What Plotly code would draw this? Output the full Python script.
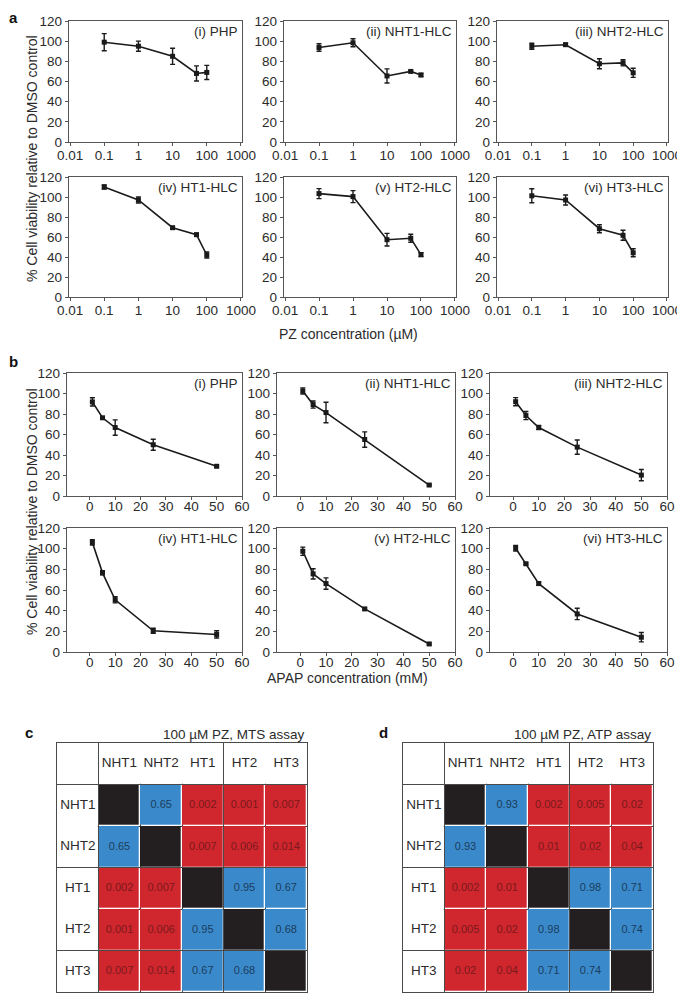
import plotly.graph_objects as go

# ---------------- data ----------------
pz_conc = [0.1, 1, 10, 50, 100]          # µM
apap_conc = [1, 5, 10, 25, 50]           # mM
panel_names = ["(i) PHP", "(ii) NHT1-HLC", "(iii) NHT2-HLC",
               "(iv) HT1-HLC", "(v) HT2-HLC", "(vi) HT3-HLC"]

pz_php = [99, 95, 85, 68, 69]
pz_php_err = [8.5, 5, 8, 7.5, 7]
pz_nht1 = [93.7, 98.4, 65.5, 70, 66.5]
pz_nht1_err = [3.7, 4, 7, 1, 1.5]
pz_nht2 = [95, 96.5, 77.6, 78.5, 68.6]
pz_nht2_err = [3, 1.5, 5, 3, 4.5]
pz_ht1 = [110, 97, 69.3, 62.3, 42]
pz_ht1_err = [2, 3, 1, 1.5, 3]
pz_ht2 = [103.4, 100.4, 57.3, 58.7, 42.4]
pz_ht2_err = [5, 6, 6.3, 4, 2]
pz_ht3 = [101.2, 97, 68.3, 61.7, 44.2]
pz_ht3_err = [7, 5, 4, 5, 4]

apap_php = [91.8, 76.3, 66.8, 50, 29]
apap_php_err = [4, 1, 7.5, 5.3, 1]
apap_nht1 = [102.5, 89.2, 81.4, 55.1, 10.7]
apap_nht1_err = [3, 3.5, 10, 7.5, 1]
apap_nht2 = [92, 78.5, 66.8, 47.7, 20.4]
apap_nht2_err = [4, 4, 2, 7, 5.5]
apap_ht1 = [106, 76.6, 50.5, 20.5, 17]
apap_ht1_err = [2.6, 2, 3, 2.5, 3.5]
apap_ht2 = [97.5, 75.6, 66.2, 41.7, 7.8]
apap_ht2_err = [4, 5, 5.5, 1, 1]
apap_ht3 = [100.4, 85.4, 66.2, 36.8, 14.3]
apap_ht3_err = [2.6, 1, 1.5, 5.5, 4.5]

pz_ticks = [0.01, 0.1, 1, 10, 100, 1000]
pz_ticktext = ["0.01", "0.1", "1", "10", "100", "1000"]
apap_ticks = [0, 10, 20, 30, 40, 50, 60]
y_ticks = [0, 20, 40, 60, 80, 100, 120]

cell_lines = ["NHT1", "NHT2", "HT1", "HT2", "HT3"]
mts_p = [["", "0.65", "0.002", "0.001", "0.007"],
         ["0.65", "", "0.007", "0.006", "0.014"],
         ["0.002", "0.007", "", "0.95", "0.67"],
         ["0.001", "0.006", "0.95", "", "0.68"],
         ["0.007", "0.014", "0.67", "0.68", ""]]
atp_p = [["", "0.93", "0.002", "0.005", "0.02"],
         ["0.93", "", "0.01", "0.02", "0.04"],
         ["0.002", "0.01", "", "0.98", "0.71"],
         ["0.005", "0.02", "0.98", "", "0.74"],
         ["0.02", "0.04", "0.71", "0.74", ""]]

# ---------------- style ----------------
FONT = "Liberation Sans, Arial, sans-serif"
TXT = "#2b2b2b"
AXC = "#555555"
RED = "#d0262e"
BLUE = "#3a8acb"
BLACK = "#231f20"
RED_TXT = "#7a1a1c"
BLUE_TXT = "#1c3c5c"

pz_series = [(pz_php, pz_php_err), (pz_nht1, pz_nht1_err), (pz_nht2, pz_nht2_err),
             (pz_ht1, pz_ht1_err), (pz_ht2, pz_ht2_err), (pz_ht3, pz_ht3_err)]
apap_series = [(apap_php, apap_php_err), (apap_nht1, apap_nht1_err), (apap_nht2, apap_nht2_err),
               (apap_ht1, apap_ht1_err), (apap_ht2, apap_ht2_err), (apap_ht3, apap_ht3_err)]

# the page body has an 8 px margin; the figure is sized to fit inside the window
OFF = 8.0
W = 685.0 - OFF
H = 994.0 - OFF

def px(xp):
    return (xp - OFF) / W

def py(yp):
    return 1 - (yp - OFF) / H

def ydom(top, bot):
    return [py(bot), py(top)]

def xdom(l, r):
    return [px(l), px(r)]

a_rows = [ydom(21, 142), ydom(177, 297)]
b_rows = [ydom(373, 496), ydom(528, 652)]
a_cols = [xdom(69, 242), xdom(284, 456), xdom(497, 668)]
b_cols = [xdom(67, 242), xdom(277, 455), xdom(490, 667)]

fig = go.Figure()
layout = dict(width=int(W), height=int(H), margin=dict(l=0, r=0, t=0, b=0, autoexpand=False),
              paper_bgcolor="white", plot_bgcolor="white", showlegend=False,
              font=dict(family=FONT, color=TXT, size=13))
annotations = []

def common_axis():
    return dict(showline=True, linecolor=AXC, linewidth=1.4, mirror=True,
                showgrid=False, zeroline=False, ticks="outside", ticklen=3,
                tickcolor=AXC, tickwidth=1, automargin=False,
                tickfont=dict(size=13.5, color=TXT, family=FONT))

idx = 0
for block, (series, xs, rows, cols) in enumerate([
        (pz_series, pz_conc, a_rows, a_cols),
        (apap_series, apap_conc, b_rows, b_cols)]):
    for k in range(6):
        idx += 1
        r, c = divmod(k, 3)
        yv, ev = series[k]
        xa = "x" if idx == 1 else f"x{idx}"
        ya = "y" if idx == 1 else f"y{idx}"
        fig.add_trace(go.Scatter(
            x=xs, y=yv, xaxis=xa, yaxis=ya, mode="lines+markers",
            line=dict(color="#1a1a1a", width=1.6),
            marker=dict(symbol="square", size=5, color="#1a1a1a"),
            error_y=dict(type="data", array=ev, visible=True, color="#1a1a1a",
                         thickness=1.4, width=2.5),
            cliponaxis=False))
        xax = common_axis()
        yax = common_axis()
        xax["domain"] = cols[c]
        yax["domain"] = rows[r]
        xax["anchor"] = ya
        yax["anchor"] = xa
        xax["ticklen"] = 3
        if block == 0:
            xax.update(type="log", range=[-2.03, 3.03], tickvals=pz_ticks,
                       ticktext=pz_ticktext, ticklabelstandoff=-2)
        else:
            xax.update(range=[-9, 60], tickvals=apap_ticks, ticklabelstandoff=-5)
        yax.update(range=[0, 120], tickvals=y_ticks)
        layout["xaxis" if idx == 1 else f"xaxis{idx}"] = xax
        layout["yaxis" if idx == 1 else f"yaxis{idx}"] = yax
        annotations.append(dict(
            text=panel_names[k], xref=f"{xa} domain", yref=f"{ya} domain",
            x=0.99, y=0.99, xanchor="right", yanchor="top", showarrow=False,
            font=dict(size=13.5, color=TXT, family=FONT)))

# ---------------- tables c and d ----------------
def table_z(pvals):
    z = [[0] * 6 for _ in range(6)]
    for i in range(5):
        for j in range(5):
            if i == j:
                z[i + 1][j + 1] = 1
            else:
                z[i + 1][j + 1] = 2 if float(pvals[i][j]) < 0.05 else 3
    return z

colorscale = [[0, "#ffffff"], [0.25, "#ffffff"], [0.25, BLACK], [0.5, BLACK],
              [0.5, RED], [0.75, RED], [0.75, BLUE], [1, BLUE]]

table_doms = [xdom(57, 307), xdom(403, 653)]
table_y = ydom(743, 992)
table_titles = ["100 µM PZ, MTS assay", "100 µM PZ, ATP assay"]
bounds = [-0.5, 0.5, 1.5, 2.5, 3.5, 4.5, 5.5]

for t, pvals in enumerate([mts_p, atp_p]):
    idx += 1
    xa, ya = f"x{idx}", f"y{idx}"
    z = table_z(pvals)
    fig.add_trace(go.Heatmap(
        z=z, x=list(range(6)), y=list(range(6)), xaxis=xa, yaxis=ya,
        colorscale=colorscale, zmin=-0.5, zmax=3.5, showscale=False,
        xgap=1.3, ygap=1.3, hoverinfo="skip"))
    tx, ty, tt, tc, ts = [], [], [], [], []
    for j, name in enumerate(cell_lines):
        tx.append(j + 1); ty.append(0); tt.append(name); tc.append(TXT); ts.append(13.5)
        tx.append(0); ty.append(j + 1); tt.append(name); tc.append(TXT); ts.append(13.5)
    for i in range(5):
        for j in range(5):
            if i == j:
                continue
            tx.append(j + 1); ty.append(i + 1); tt.append(pvals[i][j])
            tc.append(RED_TXT if z[i + 1][j + 1] == 2 else BLUE_TXT); ts.append(11)
    fig.add_trace(go.Scatter(
        x=tx, y=ty, xaxis=xa, yaxis=ya, mode="text", text=tt,
        textfont=dict(color=tc, size=ts, family=FONT), hoverinfo="skip"))
    grid = dict(showline=True, linecolor="#4a4a4a", linewidth=1.3, mirror=True,
                showgrid=True, gridcolor="#4a4a4a", gridwidth=1.3, automargin=False,
                tickvals=bounds, showticklabels=False, ticks="", zeroline=False)
    layout[f"xaxis{idx}"] = dict(grid, domain=table_doms[t], anchor=ya, range=[-0.5, 5.5])
    layout[f"yaxis{idx}"] = dict(grid, domain=table_y, anchor=xa, range=[5.5, -0.5])
    annotations.append(dict(
        text=table_titles[t], xref="paper", yref="paper",
        x=table_doms[t][1], y=py(734), xanchor="right", yanchor="middle",
        showarrow=False, font=dict(size=13.5, color=TXT, family=FONT)))

# ---------------- figure labels ----------------
ytitle = "% Cell viability relative to DMSO control"
for ycen in [159, 512]:
    annotations.append(dict(text=ytitle, xref="paper", yref="paper",
                            x=px(32), y=py(ycen), textangle=-90, showarrow=False,
                            xanchor="center", yanchor="middle",
                            font=dict(size=14, color=TXT, family=FONT)))
annotations.append(dict(text="PZ concentration (µM)", xref="paper", yref="paper",
                        x=px(348), y=py(334), showarrow=False,
                        xanchor="center", yanchor="middle",
                        font=dict(size=14, color=TXT, family=FONT)))
annotations.append(dict(text="APAP concentration (mM)", xref="paper", yref="paper",
                        x=px(347), y=py(678), showarrow=False,
                        xanchor="center", yanchor="middle",
                        font=dict(size=14, color=TXT, family=FONT)))
annotations.append(dict(text="<b>a</b>", xref="paper", yref="paper",
                        x=0, y=1, xanchor="left", yanchor="top", showarrow=False,
                        borderpad=0, font=dict(size=15, color="#111", family=FONT)))
for letter, lx, ly in [("b", 13, 361), ("c", 29, 732), ("d", 383, 732)]:
    annotations.append(dict(text=f"<b>{letter}</b>", xref="paper", yref="paper",
                            x=px(lx), y=py(ly), showarrow=False,
                            xanchor="center", yanchor="middle",
                            font=dict(size=15, color="#111", family=FONT)))

layout["annotations"] = annotations
fig.update_layout(**layout)
fig.write_html("out.html")
